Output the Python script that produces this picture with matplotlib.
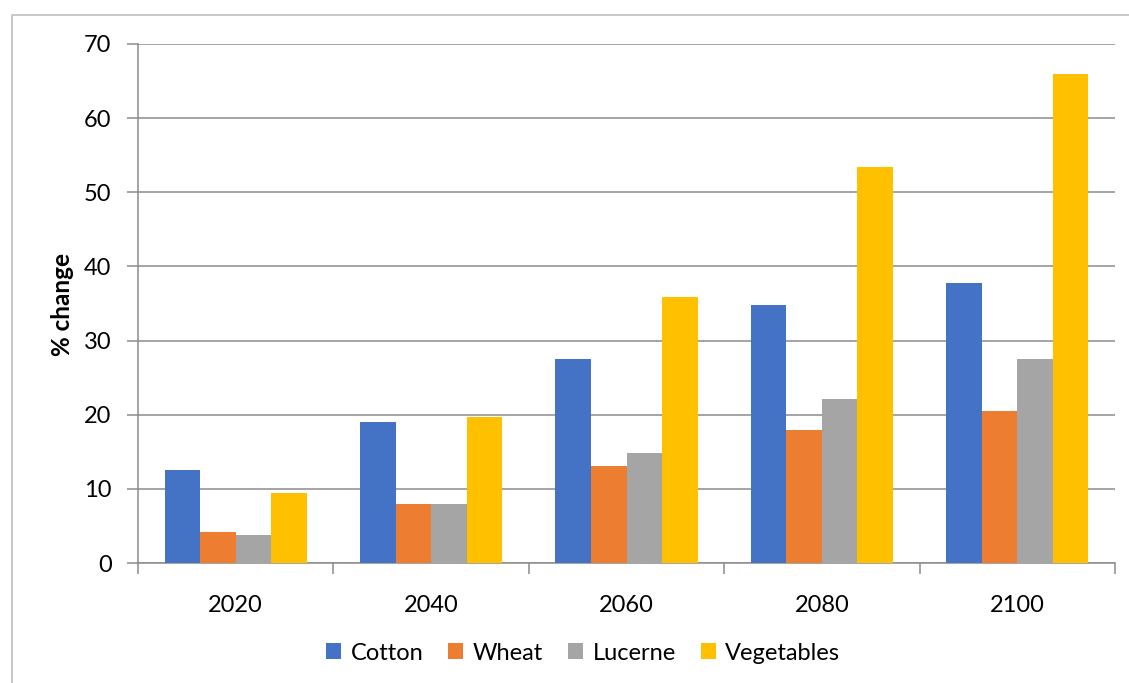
import matplotlib.pyplot as plt
import numpy as np
from matplotlib.lines import Line2D

plt.rcParams['font.family'] = ['Lato', 'DejaVu Sans']

years = ['2020', '2040', '2060', '2080', '2100']
crops = ['Cotton', 'Wheat', 'Lucerne', 'Vegetables']
cotton = [12.6, 19.0, 27.5, 34.8, 37.7]
wheat = [4.2, 7.9, 13.1, 17.9, 20.5]
lucerne = [3.8, 7.9, 14.8, 22.1, 27.5]
vegetables = [9.5, 19.7, 35.9, 53.4, 66.0]
colors = ['#4472C4', '#ED7D31', '#A5A5A5', '#FFC000']

series = [cotton, wheat, lucerne, vegetables]

fig = plt.figure(figsize=(11.29, 6.83), dpi=100)
ax = fig.add_axes([138 / 1129, 1 - 563 / 683, 977 / 1129, 519 / 683])

# excel style: gap width 150% -> bar width = 1 / (4 + 1.5)
bar_w = 1 / 5.5
x = np.arange(len(years))
for i, (vals, c) in enumerate(zip(series, colors)):
    ax.bar(x + (i - 1.5) * bar_w, vals, width=bar_w, color=c, label=crops[i], zorder=3)

ax.set_xlim(-0.5, len(years) - 0.5)
ax.set_ylim(0, 70)
ax.set_yticks(range(0, 71, 10))
ax.yaxis.grid(True, color='#8c8c8c', linewidth=1.1, zorder=0)

# labels centred, tick marks on category boundaries
ax.set_xticks(x)
ax.set_xticklabels(years)
ax.set_xticks(np.arange(-0.5, len(years)), minor=True)
ax.tick_params(axis='x', which='major', length=0, pad=23, labelsize=17)
ax.tick_params(axis='x', which='minor', length=8, width=1.1, color='#8c8c8c')
ax.tick_params(axis='y', length=8, width=1.1, color='#8c8c8c', pad=11, labelsize=17)

for s in ['top', 'right']:
    ax.spines[s].set_visible(False)
for s in ['left', 'bottom']:
    ax.spines[s].set_color('#8c8c8c')
    ax.spines[s].set_linewidth(1.1)

fig.text(62 / 1129, 1 - 304 / 683, '% change', rotation=90, ha='center', va='center',
         fontsize=17.5, fontweight='bold')

fig.legend(loc='center', bbox_to_anchor=(583 / 1129, 1 - 653 / 683), ncol=4, frameon=False,
           fontsize=17, handlelength=0.65, handleheight=0.65, handletextpad=0.4,
           columnspacing=1.05)

# outer chart area border
fig.add_artist(Line2D([12 / 1129, 12 / 1129, 1.0], [0.0, 1 - 15 / 683, 1 - 15 / 683],
                      transform=fig.transFigure, color='#bfbfbf', linewidth=1.2))

fig.savefig('out.png', dpi=100)
